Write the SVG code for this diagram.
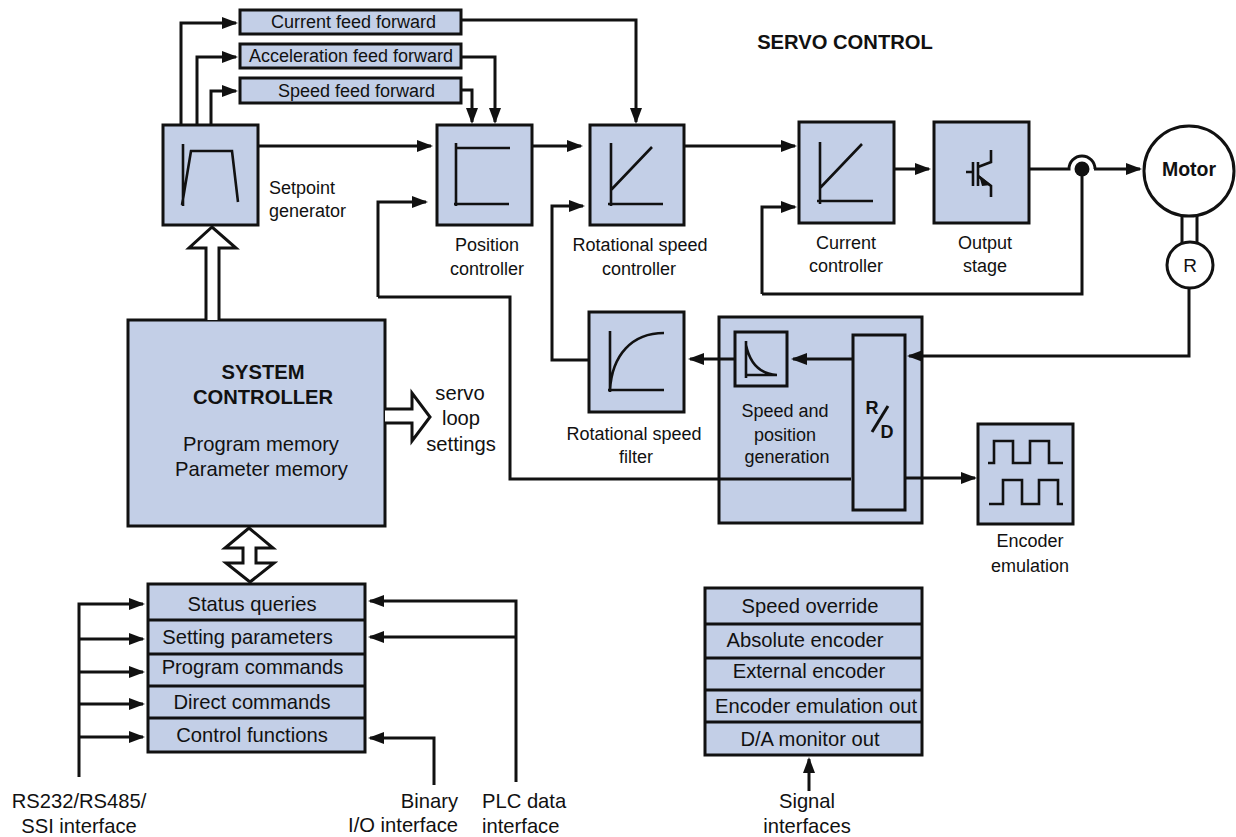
<svg xmlns="http://www.w3.org/2000/svg" width="1236" height="837" viewBox="0 0 1236 837">
<style>
text{font-family:"Liberation Sans",Arial,sans-serif;font-size:18px;fill:#111;text-anchor:middle}
.l{font-size:20.2px}
.st{text-anchor:start}
.en{text-anchor:end}
.b{font-weight:bold}
.box{fill:#c3cfe7;stroke:#111;stroke-width:3}
.ln{fill:none;stroke:#111;stroke-width:3}
.th{fill:none;stroke:#111;stroke-width:2.6}
.a{marker-end:url(#ah)}
.hol{fill:#fff;stroke:#111;stroke-width:3;stroke-linejoin:miter}
</style>
<defs>
<marker id="ah" markerUnits="userSpaceOnUse" markerWidth="20" markerHeight="14" refX="16" refY="7" orient="auto"><path d="M2 1L18 7L2 13Z" fill="#111"/></marker>
</defs>
<rect width="1236" height="837" fill="#fff"/>
<g id="setpoint"><rect class="box" x="163" y="125" width="95" height="100"/>
<path class="th" d="M183 144V206M182 205L191 151H232L238 202"/><text x="269" y="194" class="st">Setpoint</text><text x="269" y="217" class="st">generator</text></g>
<g id="ff1"><rect class="box" x="240" y="10" width="221" height="24"/><text x="353.500" y="28">Current feed forward</text></g>
<g id="ff2"><rect class="box" x="240" y="44" width="221" height="24"/><text x="351" y="62">Acceleration feed forward</text></g>
<g id="ff3"><rect class="box" x="240" y="78" width="221" height="25"/><text x="356.500" y="97">Speed feed forward</text></g>
<g id="title"><text x="845" y="49" class="b l">SERVO CONTROL</text></g>
<g id="position"><rect class="box" x="437" y="125" width="95" height="100"/>
<path class="th" d="M456 143V206M456 148H510M454 204H509"/><text x="487" y="251">Position</text><text x="487" y="275">controller</text></g>
<g id="speedctl"><rect class="box" x="590" y="125" width="94" height="100"/>
<path class="th" d="M611 143V206M611 190L652 147M608 204H663"/><text x="640" y="251">Rotational speed</text><text x="639" y="275">controller</text></g>
<g id="currentctl"><rect class="box" x="799" y="122" width="95" height="101"/>
<path class="th" d="M820 142V204M820 188L862 144M817 201H873"/><text x="846" y="249">Current</text><text x="846" y="272">controller</text></g>
<g id="output"><rect class="box" x="934" y="122" width="95" height="101"/>
<path class="th" d="M966 172H973M973 162V186M978 162V186M978 167L991 162V150M978 176L991 186V197"/><path d="M979 175L991 185L982 186Z" fill="#111"/><text x="985" y="249">Output</text><text x="985" y="272">stage</text></g>
<g id="junction"><circle cx="1082" cy="169" r="7.500" fill="#111"/></g>
<g id="motor"><circle cx="1189" cy="171" r="45" fill="#fff" stroke="#111" stroke-width="3"/><text x="1189" y="176" class="b" style="font-size:19.500px">Motor</text></g>
<g id="resolver"><circle cx="1190" cy="265" r="23" fill="#fff" stroke="#111" stroke-width="3"/><text x="1190" y="272" style="font-size:19px">R</text></g>
<g id="filter"><rect class="box" x="589" y="312" width="95" height="100"/>
<path class="th" d="M610 331V392M608 390H664M610 390C612 355 632 333 664 333"/><text x="634" y="440">Rotational speed</text><text x="636" y="463">filter</text></g>
<g id="speedgen"><rect class="box" x="719" y="317" width="203" height="206"/>
<rect class="box" x="735" y="332" width="52" height="54"/>
<path class="th" d="M746 341V378M745 375H777M746 345C750 364 760 374 777 375"/>
<text x="785" y="417">Speed and</text><text x="785" y="441">position</text><text x="787" y="463">generation</text>
<rect class="box" x="853" y="335" width="52" height="175"/>
<text x="872" y="414" class="b">R</text><text x="887" y="438" class="b">D</text><path class="ln" d="M888 406L872 432"/></g>
<g id="encoder"><rect class="box" x="978" y="424" width="95" height="100"/>
<path class="th" d="M988 463H994V441H1013V463H1030V441H1049V463H1063M989 504H1003V480H1022V504H1039V480H1058V504H1063"/><text x="1030" y="547">Encoder</text><text x="1030" y="572">emulation</text></g>
<g id="system"><rect class="box" x="128" y="320" width="257" height="206"/>
<text x="263" y="379" class="b l">SYSTEM</text><text x="263" y="404" class="b l">CONTROLLER</text><text x="261" y="451" class="l">Program memory</text><text x="261.500" y="476" class="l">Parameter memory</text></g>
<g id="servoloop"><text x="460" y="400" class="l">servo</text><text x="461" y="425" class="l">loop</text><text x="461" y="451" class="l">settings</text></g>
<g id="stack1"><rect class="box" x="148" y="584" width="217" height="168"/><path class="ln" d="M148 620H365M148 654H365M148 686H365M148 718H365"/>
<text x="252" y="611" class="l">Status queries</text><text x="247.500" y="644" class="l">Setting parameters</text><text x="252.500" y="674" class="l">Program commands</text><text x="252" y="709" class="l">Direct commands</text><text x="252" y="742" class="l">Control functions</text></g>
<g id="stack2"><rect class="box" x="705" y="588" width="217" height="167"/><path class="ln" d="M705 624H922M705 658H922M705 690H922M705 722H922"/>
<text x="810" y="613" class="l">Speed override</text><text x="805" y="647" class="l">Absolute encoder</text><text x="809" y="678" class="l">External encoder</text><text x="816" y="713" class="l">Encoder emulation out</text><text x="810" y="746" class="l">D/A monitor out</text></g>
<g id="labels"><text x="79" y="808" class="l">RS232/RS485/</text><text x="79" y="833" class="l">SSI interface</text><text x="458" y="808" class="l en">Binary</text><text x="458" y="832" class="l en">I/O interface</text><text x="482" y="808" class="l st">PLC data</text><text x="482" y="833" class="l st">interface</text><text x="807" y="808" class="l">Signal</text><text x="807" y="833" class="l">interfaces</text></g>
<g id="connectors">
<path class="ln a" d="M181 125V23H236"/>
<path class="ln a" d="M197 125V57H236"/>
<path class="ln a" d="M211 125V91H236"/>
<path class="ln a" d="M461 20H636V122"/>
<path class="ln a" d="M461 57H495V122"/>
<path class="ln a" d="M461 90H472V122"/>
<path class="ln a" d="M258 146H431"/>
<path class="ln a" d="M531 146H581"/>
<path class="ln a" d="M378 297V202H426"/>
<path class="ln" d="M378 297H510V479H851"/>
<path class="ln a" d="M684 146H795"/>
<path class="ln a" d="M894 169H929"/>
<path class="ln" d="M1029 169H1069A13 13 0 0 1 1095 169"/><path class="ln a" d="M1094 169H1140"/>
<path class="ln" d="M1082 169V294H762"/><path class="ln a" d="M762 294V207H795"/>
<path class="ln" d="M1182 215V243M1197 215V243"/>
<path class="ln a" d="M1189 288V356H909"/>
<path class="ln a" d="M852 359H793"/>
<path class="ln a" d="M735 359H690"/>
<path class="ln a" d="M589 360H552V206H583"/>
<path class="ln a" d="M905 478H975"/>
<path class="ln a" d="M79 777V604H143"/>
<path class="ln a" d="M79 639H143"/>
<path class="ln a" d="M79 672H143"/>
<path class="ln a" d="M79 704H143"/>
<path class="ln a" d="M79 737H143"/>
<path class="ln a" d="M516 782V601H370"/>
<path class="ln a" d="M516 637H370"/>
<path class="ln a" d="M434 785V738H370"/>
<path class="ln a" d="M809 791V759"/>
<path class="hol" d="M206 320V248H189L212 227L236 248H219V320"/>
<path class="hol" d="M385 409H412V393L430 417L412 441V423H385"/>
<path class="hol" d="M249 528L273 548H256V563H274L250 582L226 563H243V548H225Z"/>
</g>
</svg>
